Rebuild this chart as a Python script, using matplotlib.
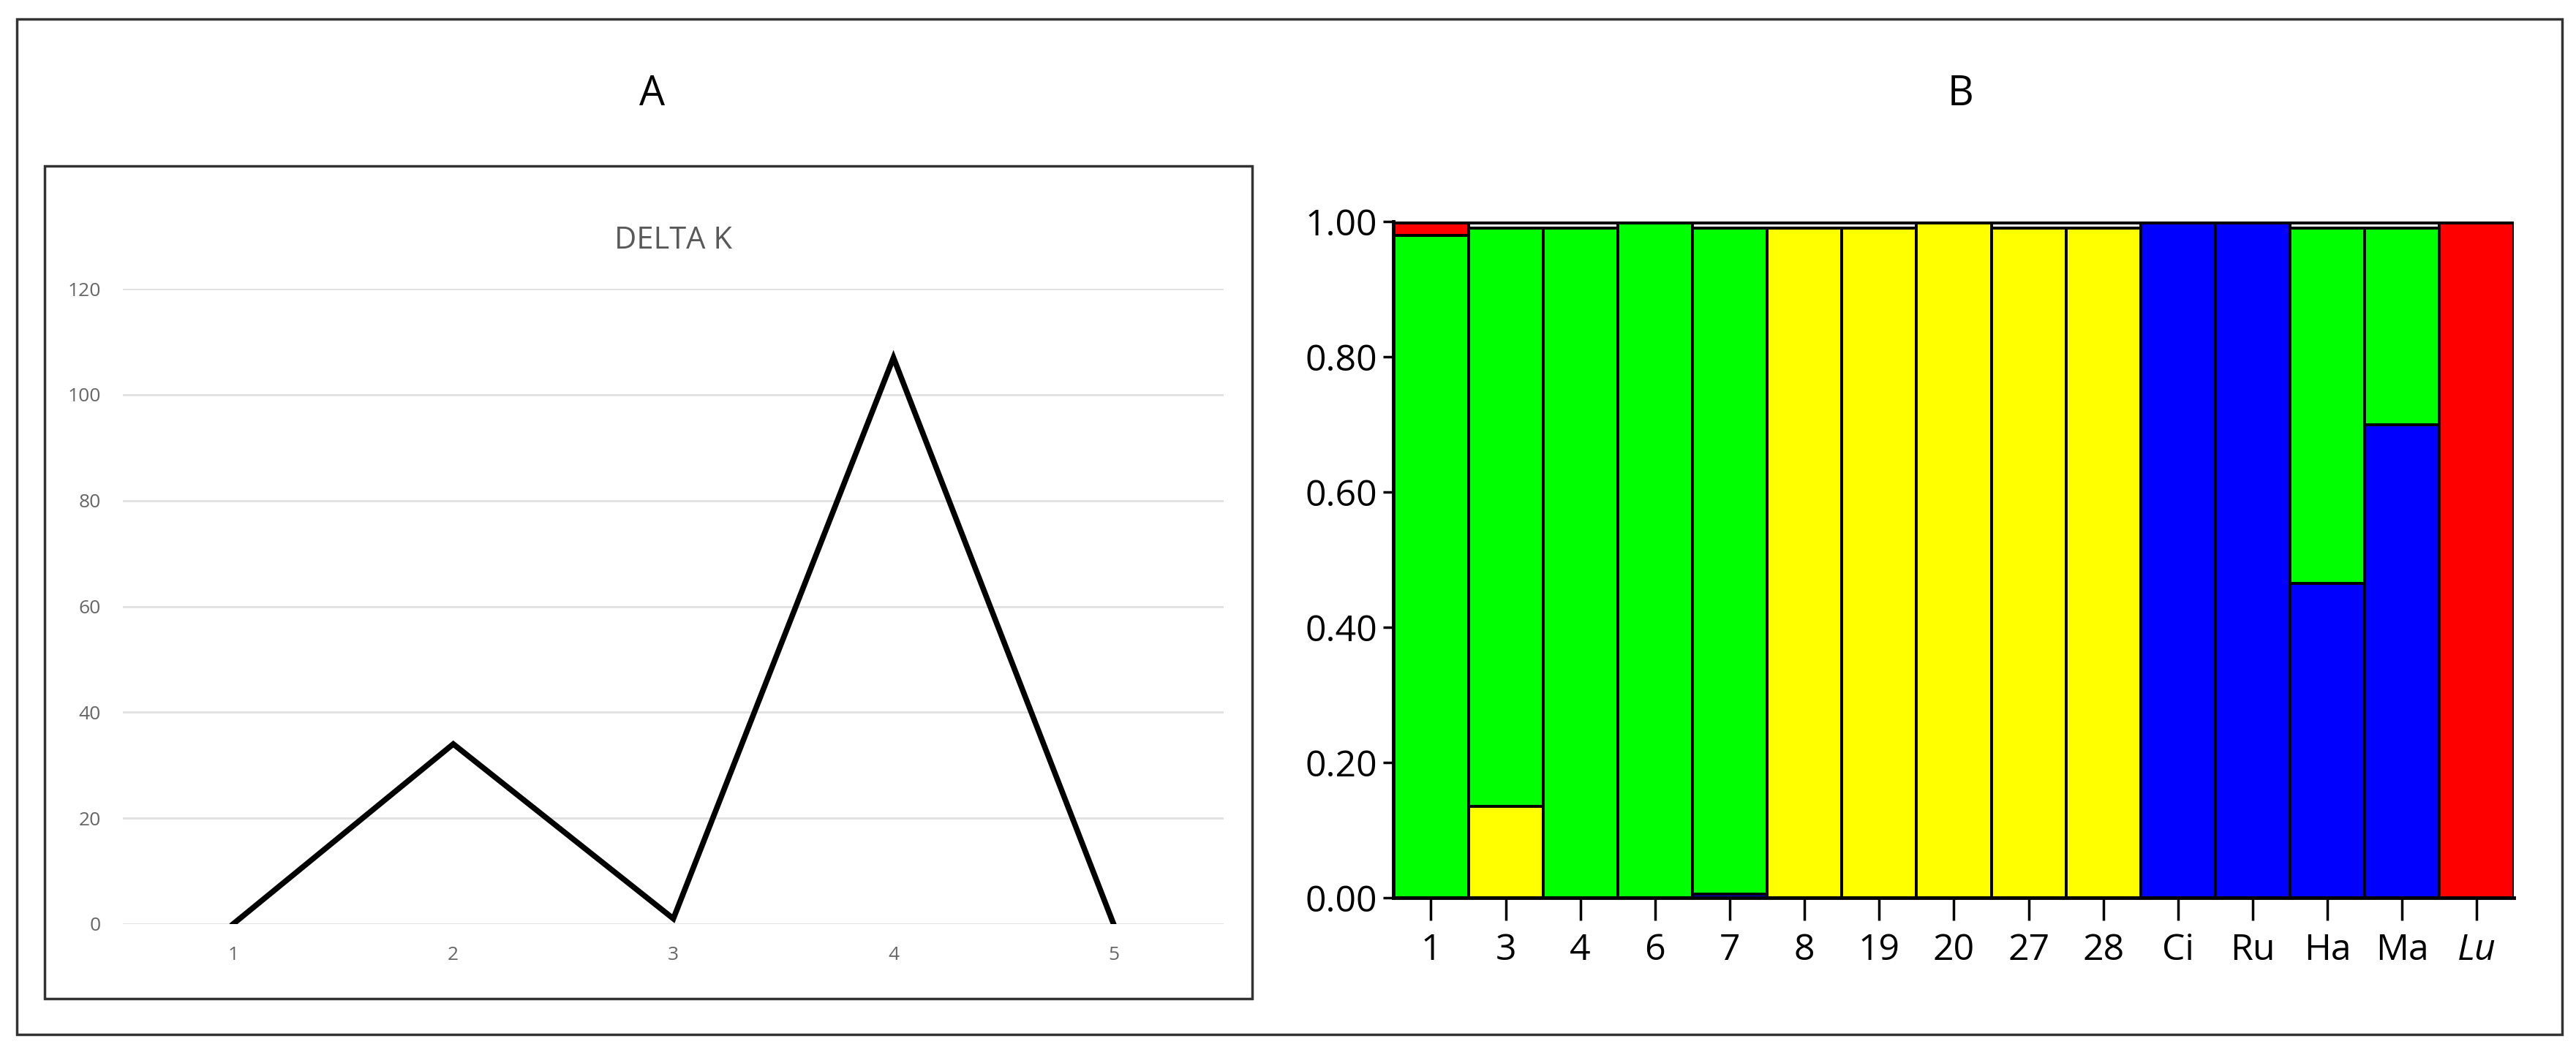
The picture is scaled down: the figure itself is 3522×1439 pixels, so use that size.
import matplotlib
matplotlib.use("Agg")
import matplotlib.pyplot as plt
from matplotlib.patches import Rectangle
import numpy as np

plt.rcParams['font.family'] = ['Open Sans', 'DejaVu Sans']

k_values = [1, 2, 3, 4, 5]
delta_k = [0, 34, 1, 107, 0]

samples = ['1', '3', '4', '6', '7', '8', '19', '20', '27', '28', 'Ci', 'Ru', 'Ha', 'Ma', 'Lu']
yellow = [0, 0.135, 0, 0, 0, 0.99, 0.99, 1.0, 0.99, 0.99, 0, 0, 0, 0, 0]
blue   = [0, 0, 0, 0, 0.005, 0, 0, 0, 0, 0, 1.0, 1.0, 0.465, 0.70, 0]
green  = [0.98, 0.855, 0.99, 1.0, 0.985, 0, 0, 0, 0, 0, 0, 0, 0.525, 0.29, 0]
red    = [0.02, 0, 0, 0, 0, 0, 0, 0, 0, 0, 0, 0, 0, 0, 1.0]

fig = plt.figure(figsize=(35.22, 14.39), dpi=100)

fig.patches.append(Rectangle((0.0065, 0.017), 0.988, 0.965, transform=fig.transFigure,
                             fill=False, edgecolor='#333333', linewidth=2.5))
fig.patches.append(Rectangle((0.0172, 0.051), 0.469, 0.791, transform=fig.transFigure,
                             fill=False, edgecolor='#333333', linewidth=2.5))

fig.text(0.253, 0.91, 'A', fontsize=40, ha='center', va='center')
fig.text(0.761, 0.91, 'B', fontsize=40, ha='center', va='center')

# Panel A
axA = fig.add_axes([0.0478, 0.1217, 0.4272, 0.6037])
axA.plot(k_values, delta_k, color='black', linewidth=5.5, solid_joinstyle='miter')
axA.set_xlim(0.5, 5.5)
axA.set_ylim(0, 120)
axA.set_yticks(np.arange(0, 121, 20))
axA.set_xticks(k_values)
axA.grid(axis='y', color='#e0e0e0', linewidth=2)
axA.set_axisbelow(True)
for s in axA.spines.values():
    s.set_visible(False)
axA.tick_params(length=0, labelsize=19, labelcolor='#666666', pad=22)
axA.set_title('DELTA K', fontsize=30, color='#595959', pad=40)

# Panel B
axB = fig.add_axes([0.541, 0.1466, 0.435, 0.6428])
x = np.arange(len(samples))
bottom = np.zeros(len(samples))
for vals, col in [(yellow, '#ffff00'), (blue, '#0000ff'), (green, '#00ff00'), (red, '#ff0000')]:
    v = np.array(vals)
    axB.bar(x, v, bottom=bottom, width=1.0, color=col, edgecolor='black', linewidth=2.8)
    bottom += v
axB.axhline(1.0, color='black', linewidth=5, zorder=4)
axB.set_xlim(-0.5, 14.5)
axB.set_ylim(0, 1.0)
axB.set_yticks(np.arange(0, 1.01, 0.2))
axB.set_yticklabels([f'{v:.2f}' for v in np.arange(0, 1.01, 0.2)])
axB.set_xticks(x)
axB.set_xticklabels(samples)
axB.get_xticklabels()[-1].set_style('italic')
for s in ['top', 'right']:
    axB.spines[s].set_visible(False)
for s in ['left', 'bottom']:
    axB.spines[s].set_linewidth(3.5)
    axB.spines[s].set_zorder(5)
axB.tick_params(axis='x', length=22, width=2.5, labelsize=36, pad=12)
axB.tick_params(axis='y', length=10, width=2.5, labelsize=36, pad=6)

fig.savefig('out.png', dpi=100)
